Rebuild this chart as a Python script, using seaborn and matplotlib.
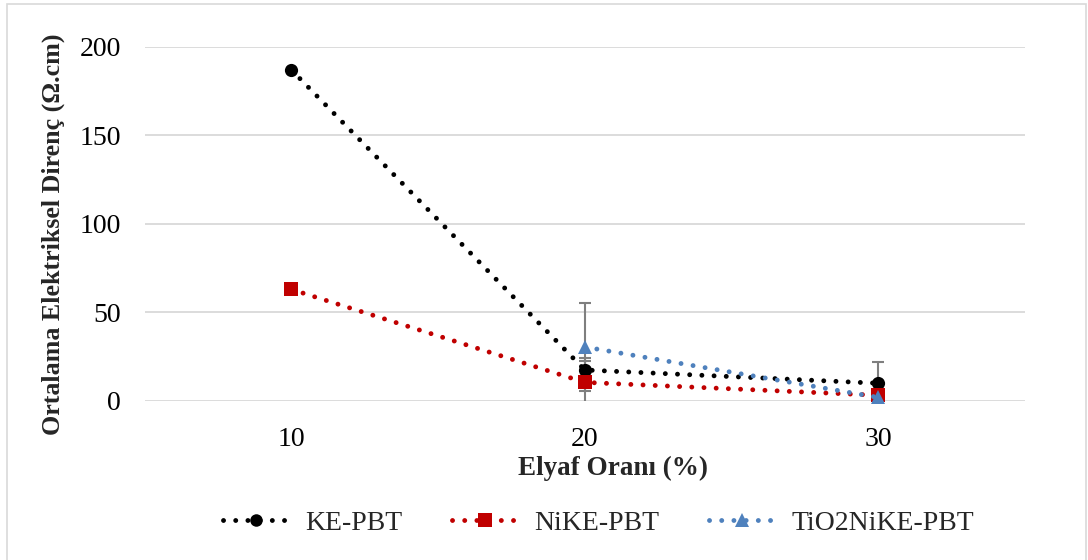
import numpy as np
import pandas as pd
import matplotlib
matplotlib.use("Agg")
import matplotlib.pyplot as plt
from matplotlib.lines import Line2D
from matplotlib.patches import Rectangle
import seaborn as sns

# Fibre ratio categories (%)
ratios = ["10", "20", "30"]

# Mean electrical resistivity (Ω.cm) per composite
ke_pbt = [187.0, 17.5, 10.0]
nike_pbt = [63.0, 10.5, 3.2]
tio2nike_pbt = [np.nan, 30.5, 2.0]

# Error bar half-widths (0 = no bar)
ke_pbt_err = [0.0, 7.0, 12.0]
nike_pbt_err = [0.0, 12.0, 0.0]
tio2nike_pbt_err = [0.0, 25.0, 0.0]

series_names = ["KE-PBT", "NiKE-PBT", "TiO2NiKE-PBT"]
series_values = [ke_pbt, nike_pbt, tio2nike_pbt]
series_errors = [ke_pbt_err, nike_pbt_err, tio2nike_pbt_err]

colors = {"KE-PBT": "#000000", "NiKE-PBT": "#C00000", "TiO2NiKE-PBT": "#4F81BD"}
markers = {"KE-PBT": "o", "NiKE-PBT": "s", "TiO2NiKE-PBT": "^"}
msizes = {"KE-PBT": 9.5, "NiKE-PBT": 10.0, "TiO2NiKE-PBT": 10.0}

rows = []
for name, vals in zip(series_names, series_values):
    for i, v in enumerate(vals):
        if not np.isnan(v):
            rows.append({"pos": i, "value": v, "series": name})
df = pd.DataFrame(rows)

sns.set_theme(style="white")
plt.rcParams["font.family"] = ["Liberation Serif", "DejaVu Serif"]

fig = plt.figure(figsize=(10.88, 5.6), dpi=100)
ax = fig.add_axes([0.133, 0.284, 0.809, 0.6323])

# Thin outer frame around the chart area
fig.patches.append(Rectangle((0.006, -0.01), 0.992, 1.002, transform=fig.transFigure,
                             fill=False, edgecolor="#D9D9D9", linewidth=1.2))

lw = 3.5
dot = (0.01, 2.5)
sns.lineplot(data=df, x="pos", y="value", hue="series", style="series",
             hue_order=series_names, style_order=series_names,
             palette=colors, markers=markers,
             dashes={n: dot for n in series_names},
             linewidth=lw, markeredgewidth=0, legend=False, ax=ax, zorder=3)

for line, name in zip(ax.lines, series_names):
    line.set_dash_capstyle("round")
    line.set_markersize(msizes[name])
    line.set_clip_on(False)

# Error bars, clipped at the bottom of the value axis
for name, vals, errs in zip(series_names, series_values, series_errors):
    idx = [i for i, e in enumerate(errs) if e > 0]
    ax.errorbar(idx, [vals[i] for i in idx], yerr=[errs[i] for i in idx], fmt="none",
                ecolor="#7F7F7F", elinewidth=1.5, capsize=4.5, capthick=1.5, zorder=2)

ax.set_xlim(-0.5, 2.5)
ax.set_ylim(0, 200)
ax.set_yticks([0, 50, 100, 150, 200])
ax.set_xticks(range(len(ratios)))
ax.set_xticklabels(ratios)
ax.grid(axis="y", color="#D9D9D9", linewidth=1.3)
ax.grid(axis="x", visible=False)
ax.set_axisbelow(True)
for s in ["top", "right", "left", "bottom"]:
    ax.spines[s].set_visible(False)
ax.tick_params(axis="both", length=0, labelsize=20, colors="#000000")
ax.tick_params(axis="y", pad=17)
ax.tick_params(axis="x", pad=19)

ax.set_xlabel("Elyaf Oranı (%)", fontsize=19.5, fontweight="bold")
ax.xaxis.set_label_coords(0.532, -0.156)
ax.set_ylabel("Ortalama Elektriksel Direnç (Ω.cm)", fontsize=18.7, fontweight="bold")
ax.yaxis.set_label_coords(-0.09, 0.471)

handles = [Line2D([0], [0], color=colors[n], linewidth=lw, dashes=dot,
                  dash_capstyle="round", marker=markers[n], markersize=msizes[n] - 0.5,
                  markeredgewidth=0)
           for n in series_names]
fig.legend(handles, series_names, loc="center", bbox_to_anchor=(0.55, 0.066), ncol=3,
           frameon=False, fontsize=20, handlelength=2.35, columnspacing=1.8,
           handletextpad=0.6)

fig.savefig("out.png", dpi=100)
